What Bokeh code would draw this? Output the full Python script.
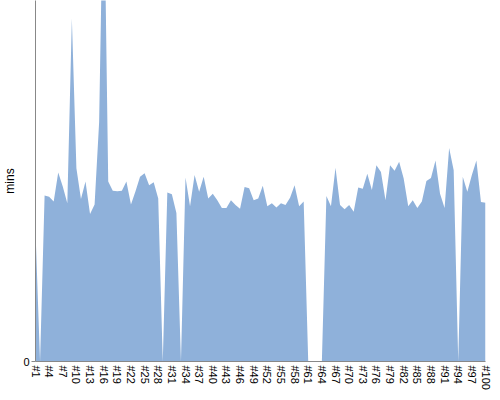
from bokeh.plotting import figure
from bokeh.models import Range1d, FixedTicker, ColumnDataSource
from bokeh.embed import file_html
from bokeh.resources import INLINE

# Run labels (#1 .. #100)
labels = ["#%d" % (i + 1) for i in range(100)]

# Minutes per run
mins = [21.7, 0.0, 27.6, 27.4, 26.6, 31.4, 29.1, 26.3, 57.0, 32.1,
        27.0, 29.9, 24.5, 26.1, 39.8, 84.0, 29.9, 28.4, 28.3, 28.4,
        29.9, 26.1, 28.3, 30.7, 31.3, 29.3, 29.8, 27.1, 0.0, 28.1,
        27.8, 24.7, 0.0, 30.6, 25.8, 31.0, 28.2, 30.7, 27.1, 27.9,
        26.8, 25.5, 25.5, 26.8, 26.0, 25.4, 29.0, 28.8, 26.8, 27.1,
        29.2, 25.8, 26.3, 25.6, 26.3, 26.0, 27.2, 29.3, 25.8, 26.6,
        0.0, 0.0, 0.0, 0.0, 27.5, 25.8, 32.2, 26.0, 25.3, 26.0,
        24.9, 28.9, 28.7, 31.2, 28.5, 32.6, 31.5, 26.8, 32.6, 31.7,
        33.2, 30.4, 25.8, 26.8, 25.5, 26.6, 30.0, 30.5, 33.4, 27.9,
        25.5, 35.5, 31.8, 0.0, 30.7, 28.2, 31.0, 33.4, 26.5, 26.4]

y_ticks = [0]

idx = list(range(len(labels)))
src = ColumnDataSource(dict(x=idx, y=mins, lab=labels))

p = figure(width=492, height=392, output_backend="svg", toolbar_location=None,
           x_range=Range1d(0, len(labels) - 1), y_range=Range1d(0, 60),
           min_border_left=26, min_border_right=7, min_border_top=0,
           min_border_bottom=0)
p.outline_line_color = None
p.xgrid.visible = False
p.ygrid.visible = False
p.background_fill_color = "white"
p.border_fill_color = "white"

p.varea(x="x", y1=0, y2="y", source=src, fill_color="#8FB1DA")

xa = p.xaxis[0]
xa.ticker = FixedTicker(ticks=idx[::3])
xa.major_label_overrides = {i: labels[i] for i in idx[::3]}
xa.major_label_orientation = "vertical"
xa.major_tick_out = 0
xa.major_tick_in = 0
xa.minor_tick_out = 0
xa.minor_tick_in = 0
xa.major_label_standoff = 4
xa.major_label_text_font_size = "11px"
xa.major_label_text_color = "black"
xa.axis_line_color = "#888888"

ya = p.yaxis[0]
ya.ticker = FixedTicker(ticks=y_ticks)
ya.major_tick_out = 4
ya.major_tick_in = 0
ya.minor_tick_out = 0
ya.minor_tick_in = 0
ya.major_tick_line_color = "#888888"
ya.major_label_standoff = 2
ya.major_label_text_font_size = "11px"
ya.major_label_text_color = "black"
ya.axis_line_color = "#888888"
ya.axis_label = "mins"
ya.axis_label_text_font_style = "normal"
ya.axis_label_text_font_size = "12px"
ya.axis_label_standoff = 3
ya.axis_label_text_color = "black"

open("out.html", "w").write(file_html(p, INLINE))
